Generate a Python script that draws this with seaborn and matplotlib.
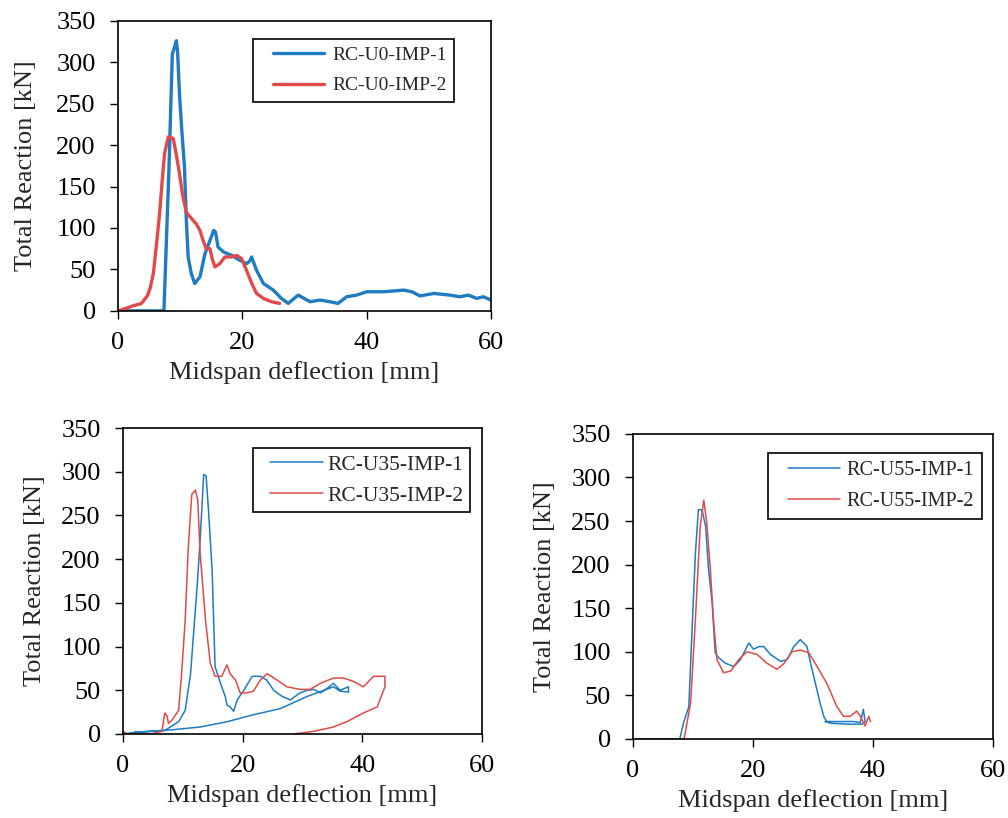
import numpy as np
import pandas as pd
import seaborn as sns
import matplotlib.pyplot as plt
from matplotlib.lines import Line2D
from matplotlib.legend_handler import HandlerLine2D

# --- RC-U0 (top left) ---
u0_1_x = [0, 7.4, 8.2, 8.75, 9.1, 9.4, 9.6, 9.9, 10.3, 10.7, 11.0, 11.3, 11.8, 12.35, 13.2, 14.0, 14.8,
          15.4, 15.7, 16.1, 17.0, 18.3, 19.6, 20.7, 21.2, 21.5, 22.3, 23.4, 25.0, 26.3, 27.4, 29.0,
          30.9, 32.5, 34.1, 35.4, 36.8, 38.4, 40.0, 42.7, 46.0, 47.3, 48.6, 50.8, 53.4, 55.0, 56.4,
          57.7, 58.8, 60.0]
u0_1_y = [0, 0, 170, 310, 318, 326, 312, 262, 215, 174, 110, 65, 45, 33, 41, 69, 85,
          97, 95, 77, 71, 67, 61, 57, 60, 65, 49, 33, 25, 15, 9, 19,
          11, 13, 11, 9, 17, 19, 23, 23, 25, 23, 18, 21, 19, 17, 19,
          15, 17, 13]
u0_2_x = [0, 1.3, 2.4, 3.8, 4.8, 5.2, 5.7, 6.2, 6.7, 7.1, 7.5, 8.1, 8.9, 9.4, 9.9, 10.4, 11.0, 12.0,
          12.6, 13.2, 13.7, 14.2, 14.8, 15.2, 15.6, 16.4, 17.2, 18.3, 19.1, 19.9, 20.9, 21.6, 22.3,
          23.4, 24.7, 26.0]
u0_2_y = [0, 3, 6, 9, 19, 28, 45, 80, 117, 155, 190, 210, 208, 188, 166, 140, 119, 110,
          105, 97, 85, 75, 75, 62, 53, 57, 65, 65, 67, 63, 45, 32, 21,
          15, 11, 9]

# --- RC-U35 (bottom left) ---
u35_1_x = [0, 2.0, 4.6, 7.0, 7.9, 9.3, 10.4, 11.3, 12.4, 12.9, 13.5, 13.9, 14.3, 14.9, 15.4, 16.3,
           17.1, 17.4, 17.9, 18.5, 19.1, 20.2, 21.6, 23.0, 24.0, 25.2, 26.6, 28.0, 29.6, 30.8,
           31.9, 33.0, 34.1, 35.2, 36.3, 37.7, 37.7, 36.3, 35.2, 30.8, 26.3, 21.8, 17.4, 12.9,
           8.5, 4.6, 2.0]
u35_1_y = [0, 2, 3, 4, 8, 14, 27, 69, 169, 222, 297, 295, 256, 188, 77, 58,
           43, 33, 31, 26, 39, 50, 66, 66, 62, 50, 43, 39, 47, 50,
           51, 47, 52, 58, 50, 54, 48, 49, 54, 43, 29, 22, 14, 8,
           5, 3, 2]
u35_2_x = [0, 0.7, 4.6, 6.5, 7.0, 7.4, 7.6, 8.2, 9.3, 9.8, 10.4, 10.9, 11.5, 12.1, 12.5, 12.9,
           13.8, 14.6, 15.4, 16.5, 17.4, 17.9, 18.8, 19.6, 20.7, 21.8, 23.0, 24.1, 25.7, 27.4,
           29.6, 31.3, 33.0, 35.2, 36.9, 38.6, 40.2, 41.9, 43.8, 43.8, 42.5, 40.2, 37.4, 35.2,
           31.9, 28.5]
u35_2_y = [3, 0, 0, 3, 24, 20, 12, 16, 27, 69, 130, 211, 274, 279, 268, 207,
           130, 81, 66, 66, 79, 69, 62, 47, 47, 49, 62, 69, 62, 54,
           51, 51, 58, 64, 64, 60, 54, 66, 66, 54, 31, 24, 14, 8,
           3, 0]

# --- RC-U55 (bottom right) ---
u55_1_x = [0, 7.8, 7.9, 8.4, 9.3, 9.8, 10.4, 10.9, 11.5, 12.1, 12.6, 13.2, 13.7, 14.3, 15.4, 16.8,
           17.9, 19.3, 20.1, 21.0, 21.8, 22.9, 24.6, 25.7, 26.8, 27.9, 29.0, 29.6, 30.4, 31.2,
           31.8, 32.3, 34.0, 35.1, 36.8, 37.9, 38.4, 38.7, 38.2, 36.0, 33.0, 32.0]
u55_1_y = [0, 0, 3, 18, 37, 118, 213, 263, 263, 244, 194, 156, 99, 93, 87, 83,
           91, 110, 103, 106, 106, 97, 89, 91, 106, 114, 106, 87, 64, 41,
           26, 20, 20, 20, 20, 19, 34, 20, 17, 17, 18, 20]
u55_2_x = [0, 8.5, 8.7, 9.6, 10.4, 11.2, 11.8, 12.3, 12.9, 13.4, 14.0, 15.1, 16.3, 17.6, 19.0,
           20.7, 22.3, 24.0, 25.1, 26.5, 27.9, 29.3, 30.7, 32.3, 34.0, 35.1, 36.2, 37.3, 37.9,
           38.7, 39.3, 39.6]
u55_2_y = [0, 0, 7, 41, 137, 244, 274, 248, 194, 137, 91, 76, 78, 91, 100,
           97, 87, 80, 86, 100, 102, 99, 83, 64, 37, 26, 26, 32, 26,
           15, 26, 20]

panels = [
    (["RC-U0-IMP-1", "RC-U0-IMP-2"], [(u0_1_x, u0_1_y), (u0_2_x, u0_2_y)]),
    (["RC-U35-IMP-1", "RC-U35-IMP-2"], [(u35_1_x, u35_1_y), (u35_2_x, u35_2_y)]),
    (["RC-U55-IMP-1", "RC-U55-IMP-2"], [(u55_1_x, u55_1_y), (u55_2_x, u55_2_y)]),
]

sns.set_style("ticks")
plt.rcParams['font.family'] = ['Liberation Serif', 'DejaVu Serif']

blue = '#1f7bc2'
red = '#e04a4a'

fig = plt.figure(figsize=(10.08, 8.18), dpi=100)
rects = [[0.117, 0.620, 0.370, 0.3545],
         [0.122, 0.1027, 0.356, 0.374],
         [0.628, 0.0966, 0.357, 0.373]]
lws = [2.4, 1.1, 1.1]
ylabpad = [14, 11, 11]
# legend settings per panel: anchor (upper left), font size, border pad, label spacing,
# handle length, handle x-pad, handle-text pad
leg_opts = [
    dict(anchor=(0.362, 0.938), fs=14, bp=0.40, ls=0.65, hl=3.25, xpad=0.63, htp=0.41),
    dict(anchor=(0.362, 0.935), fs=15.5, bp=0.31, ls=0.50, hl=2.94, xpad=0.48, htp=0.23),
    dict(anchor=(0.375, 0.938), fs=14.5, bp=0.40, ls=0.60, hl=3.18, xpad=0.60, htp=0.30),
]

for i, (names, series) in enumerate(panels):
    ax = fig.add_axes(rects[i])
    frames = []
    for n, (x, y) in zip(names, series):
        frames.append(pd.DataFrame({'x': x, 'y': y, 'name': n}))
    df = pd.concat(frames, ignore_index=True)
    sns.lineplot(data=df, x='x', y='y', hue='name', sort=False, estimator=None,
                 palette=[blue, red], linewidth=lws[i], ax=ax)
    ax.set_xlim(0, 60)
    ax.set_ylim(0, 350)
    ax.set_xticks([0, 20, 40, 60])
    ax.set_yticks(range(0, 351, 50))
    ax.tick_params(direction='out', length=6, width=1, labelsize=19, colors='black')
    ax.tick_params(axis='x', pad=9)
    ax.tick_params(axis='y', pad=10)
    for s in ax.spines.values():
        s.set_visible(True)
        s.set_color('black')
        s.set_linewidth(1.2)
    ax.set_xlabel('Midspan deflection [mm]', fontsize=19, labelpad=5)
    ax.set_ylabel('Total Reaction [kN]', fontsize=19, labelpad=ylabpad[i])
    o = leg_opts[i]
    leg = ax.legend(loc='upper left', bbox_to_anchor=o['anchor'], fancybox=False,
                    edgecolor='black', framealpha=1, fontsize=o['fs'],
                    handlelength=o['hl'], borderpad=o['bp'], labelspacing=o['ls'],
                    handletextpad=o['htp'], borderaxespad=0,
                    handler_map={Line2D: HandlerLine2D(xpad=o['xpad'])})
    leg.get_frame().set_linewidth(1.2)

fig.savefig('out.png', dpi=100)
